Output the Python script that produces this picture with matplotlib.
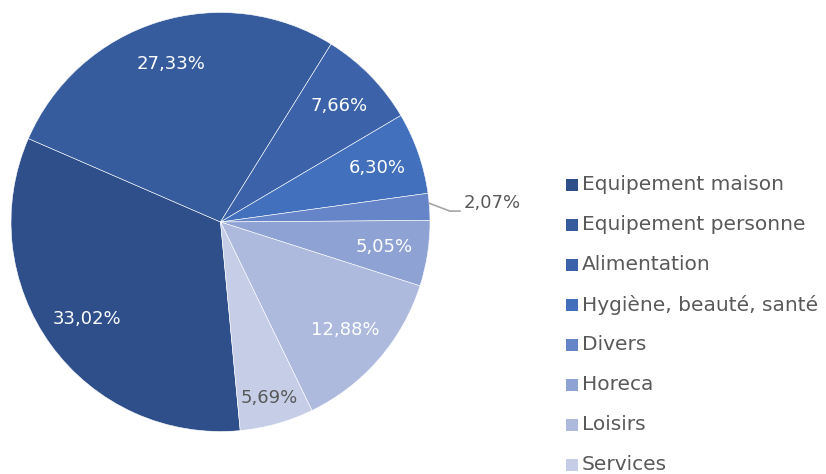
import matplotlib
matplotlib.use("Agg")
import matplotlib.pyplot as plt
import numpy as np
from matplotlib.patches import Rectangle

categories = ["Equipement maison", "Equipement personne", "Alimentation",
              "Hygiène, beauté, santé", "Divers", "Horeca", "Loisirs", "Services"]
values = [33.02, 27.33, 7.66, 6.30, 2.07, 5.05, 12.88, 5.69]
labels = ["33,02%", "27,33%", "7,66%", "6,30%", "2,07%", "5,05%", "12,88%", "5,69%"]
colors = ["#2E4F8A", "#365C9E", "#3C63A9", "#4270BC", "#6585C8", "#8FA2D4", "#ADBADD", "#C5CEE6"]

plt.rcParams['font.family'] = ['DejaVu Sans']
W, H = 826, 474
fig = plt.figure(figsize=(W/100, H/100), dpi=100)
cx, cy, R = 220.5, 222, 209.5
ax = fig.add_axes([(cx-R)/W, (H-cy-R)/H, 2*R/W, 2*R/H])
wedges, _ = ax.pie(values, colors=colors, startangle=-84.6, counterclock=False,
                   radius=1, wedgeprops=dict(edgecolor="#ffffff", linewidth=0.4))
ax.set_xlim(-1, 1)
ax.set_ylim(-1, 1)
ax.axis('off')

fs = 13
for i, (w, lab) in enumerate(zip(wedges, labels)):
    ang = np.deg2rad((w.theta1 + w.theta2) / 2)
    if lab == "2,07%":
        ax.plot([0.995, 1.095, 1.143], [0.09, 0.052, 0.052], color="#a6a6a6", lw=1.2,
                clip_on=False)
        ax.text(1.162, 0.09, lab, ha='left', va='center', fontsize=fs, color="#595959")
        continue
    d = 0.87 if lab == "5,69%" else 0.79
    col = "#595959" if lab == "5,69%" else "white"
    ax.text(d*np.cos(ang), d*np.sin(ang), lab, ha='center', va='center',
            fontsize=fs, color=col)

# legend
for i, (cat, c) in enumerate(zip(categories, colors)):
    yc = 185 + 40 * i
    fig.patches.append(Rectangle((566/W, 1 - (yc + 6)/H), 12/W, 12/H, facecolor=c,
                                 edgecolor='none', transform=fig.transFigure))
    fig.text(582/W, 1 - yc/H, cat, ha='left', va='center', fontsize=14.5, color="#595959")

fig.savefig("out.png", dpi=100)
